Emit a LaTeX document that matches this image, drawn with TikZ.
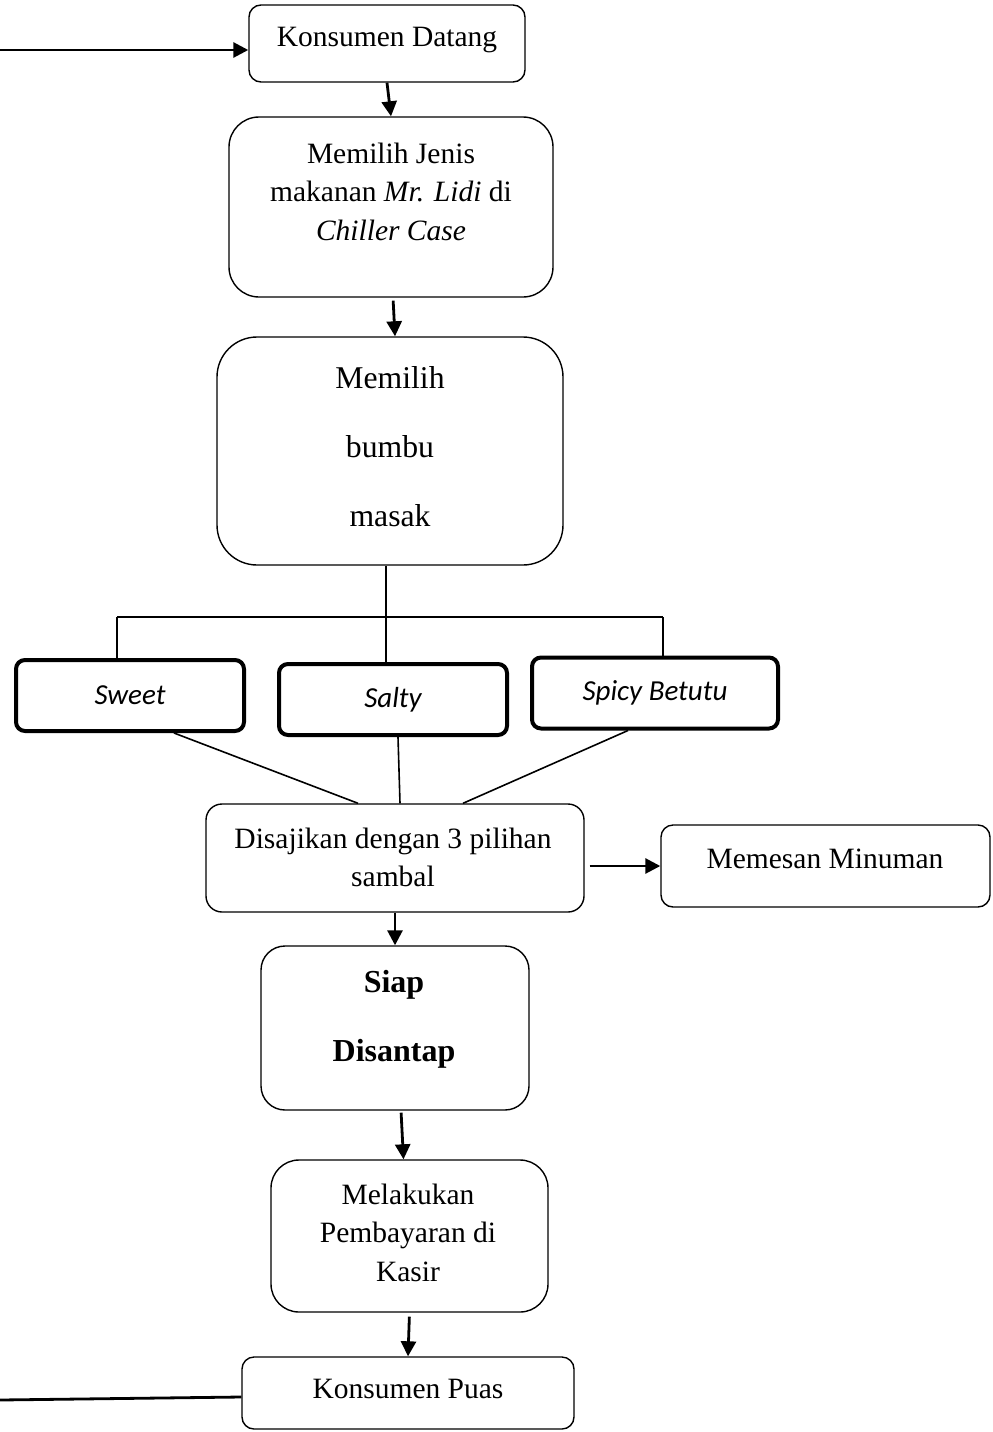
\documentclass[tikz,border=0pt]{standalone}
\usepackage{fontspec}
\setmainfont{Liberation Serif}
\newfontfamily\sambalfont{Carlito}
\usetikzlibrary{
  arrows.meta,
  calc
}
\tikzset{
  stepbox/.style={draw, rounded corners=12pt, line width=1.4pt},
  sambalbox/.style={
    draw, rounded corners=9pt, line width=4pt, minimum height=71pt,
    font=\sambalfont\itshape\fontsize{29}{35}\selectfont
  },
  txt/.style={font=\fontsize{29.5}{38.5}\selectfont, align=center, inner sep=0pt},
  bigtxt/.style={font=\fontsize{31.7}{69}\selectfont, align=center, inner sep=0pt},
  boldtxt/.style={bigtxt, font=\fontsize{32}{69}\selectfont\bfseries},
  flow/.style={-{Triangle[length=15pt,width=15pt]}, line width=2.8pt},
  treeline/.style={line width=1.6pt}
}
\begin{document}
\begin{tikzpicture}[x=1pt,y=-1pt]
  \useasboundingbox (0,0) rectangle (993,1432);

  % main column
  \node[stepbox, minimum width=276pt, minimum height=77pt] (datang) at (387,43.5) {};
  \node[txt] (datang-t) at (387,40) {Konsumen Datang};
  \node[stepbox, rounded corners=30pt, minimum width=324pt, minimum height=180pt] (jenis) at (391,207) {};
  \node[txt] (jenis-t) at (391,191.5) {Memilih Jenis\\makanan \textit{Mr. Lidi} di\\\textit{Chiller Case}};
  \node[stepbox, rounded corners=40pt, minimum width=346pt, minimum height=228pt] (bumbu) at (390,451) {};
  \node[bigtxt] (bumbu-t) at (390,447) {Memilih\\bumbu\\masak};

  % sambal choices
  \foreach \name/\cx/\cy/\w/\label in {
    sweet/130/695.5/228/Sweet,
    salty/393/699.5/228/Salty,
    spicy/655/693/246/Spicy Betutu}{
    \node[sambalbox, minimum width=\w pt] (\name) at (\cx,\cy) {\label};
  }

  \node[stepbox, rounded corners=16pt, minimum width=378pt, minimum height=108pt] (sajikan) at (395,858) {};
  \node[txt] (sajikan-t) at (393,857.5) {Disajikan dengan 3 pilihan\\sambal};
  \node[stepbox, minimum width=329pt, minimum height=82pt] (minuman) at (825.5,866) {};
  \node[txt] (minuman-t) at (825,859) {Memesan Minuman};
  \node[stepbox, rounded corners=24pt, minimum width=268pt, minimum height=164pt] (santap) at (395,1028) {};
  \node[boldtxt] (santap-t) at (394,1019.5) {Siap\\Disantap};
  \node[stepbox, rounded corners=28pt, minimum width=277pt, minimum height=152pt] (bayar) at (409.5,1236) {};
  \node[txt] (bayar-t) at (408,1232.5) {Melakukan\\Pembayaran di\\Kasir};
  \node[stepbox, minimum width=332pt, minimum height=72pt] (puas) at (408,1393) {};
  \node[txt] (puas-t) at (408,1389) {Konsumen Puas};

  % loop ends at the left edge
  \coordinate (startL) at (0,50);
  \coordinate (endL) at (0,1400);
  \draw[flow] (startL) -- (datang.west |- startL);
  \draw[line width=2.8pt] (endL) -- ([yshift=-4pt]puas.west);

  % arrows down the column
  \draw[flow] (datang.south) -- (jenis.north);
  \draw[flow, shorten <=3pt] ([xshift=2pt]jenis.south) -- ([xshift=5pt]bumbu.north);
  \draw[flow] (sajikan.south) -- (santap.north);
  \draw[flow, shorten <=2pt] ([xshift=6pt]santap.south) -- ([xshift=-6pt]bayar.north);
  \draw[flow, shorten <=4pt] (bayar.south) -- (puas.north);
  \draw[flow, shorten <=5pt] (sajikan.east |- minuman.west) -- (minuman.west);

  % fork to the sambal boxes
  \coordinate (fork) at (386,617);
  \coordinate (forkL) at (117,617);
  \coordinate (forkR) at (663,617);
  \draw[treeline] (bumbu.south -| fork) -- (fork);
  \draw[treeline] (forkL) -- (forkR);
  \draw[treeline] (forkL) -- (forkL |- sweet.north);
  \draw[treeline] (fork) -- (fork |- salty.north);
  \draw[treeline] (forkR) -- (forkR |- spicy.north);

  % sambal boxes into the serving box
  \draw[treeline] ([xshift=44pt]sweet.south) -- ([xshift=-37pt]sajikan.north);
  \draw[treeline] ([xshift=5pt]salty.south) -- ([xshift=5pt]sajikan.north);
  \draw[treeline] ([xshift=-27pt]spicy.south) -- ([xshift=68pt]sajikan.north);
\end{tikzpicture}
\end{document}
